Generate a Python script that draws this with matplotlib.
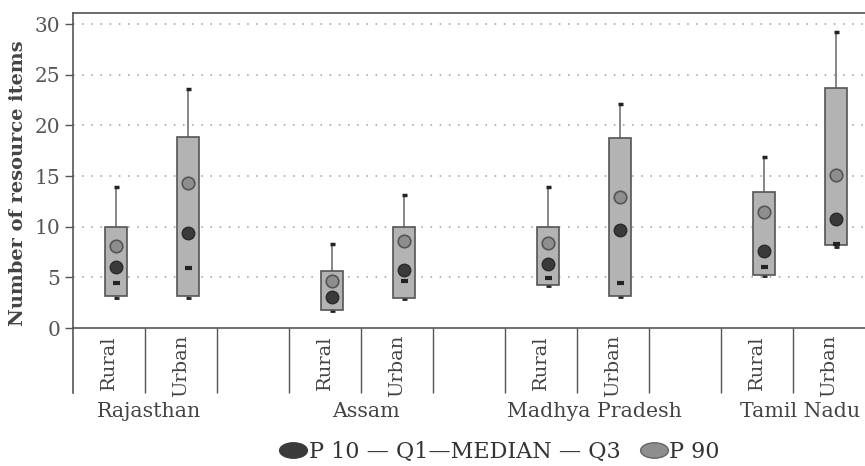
import numpy as np
import matplotlib
matplotlib.use("Agg")
from matplotlib import pyplot as plt
from matplotlib.lines import Line2D
from matplotlib.path import Path
import matplotlib.transforms as mtransforms

# values (number of resource items)
states = ['Rajasthan', 'Assam', 'Madhya Pradesh', 'Tamil Nadu']
areas = ['Rural', 'Urban']
whisk_lo = [3.0, 3.0, 1.7, 2.9, 4.2, 3.1, 5.1, 8.0]
q1 = [3.2, 3.2, 1.8, 3.0, 4.3, 3.2, 5.2, 8.2]
median = [4.4, 5.9, 3.1, 4.6, 4.9, 4.4, 6.0, 8.3]
q3 = [10.0, 18.9, 5.6, 10.0, 10.0, 18.8, 13.4, 23.7]
whisk_hi = [13.9, 23.6, 8.3, 13.1, 13.9, 22.1, 16.9, 29.2]
p10 = [6.0, 9.4, 3.1, 5.7, 6.3, 9.7, 7.6, 10.8]
p90 = [8.1, 14.3, 4.6, 8.6, 8.4, 12.9, 11.5, 15.1]

plt.rcParams['font.family'] = 'DejaVu Serif'

fig = plt.figure(figsize=(8.65, 4.66), dpi=100)
ax = fig.add_axes([0.0844, 0.296, 0.9156, 0.676])

# each state takes 3 slots: rural, urban, gap
pos = []
for g in range(len(states)):
    pos += [g * 3 + 0.5, g * 3 + 1.5]
pos = np.array(pos)
bx = pos + 0.1  # boxes sit a little right of slot centre

box_c = '#b3b3b3'
edge_c = '#555555'
dark = '#3a3a3a'
mid = '#8e8e8e'

ax.vlines(bx, np.array(q3), np.array(whisk_hi), color='#666666', lw=1.1, zorder=2)
ax.vlines(bx, np.array(whisk_lo), np.array(q1), color='#666666', lw=1.1, zorder=2)
ax.bar(bx, np.array(q3) - np.array(q1), bottom=q1, width=0.3,
       color=box_c, edgecolor=edge_c, linewidth=1.2, zorder=3)
ax.hlines(whisk_hi, bx - 0.035, bx + 0.035, color='#222222', lw=2.5, zorder=4)
ax.hlines(whisk_lo, bx - 0.035, bx + 0.035, color='#222222', lw=2.0, zorder=2)
ax.hlines(median, bx - 0.05, bx + 0.05, color='#222222', lw=3, zorder=4)
ax.plot(bx, p10, 'o', ms=9, color=dark, mec='#2a2a2a', zorder=5)
ax.plot(bx, p90, 'o', ms=9, color=mid, mec='#555555', mew=1.2, zorder=5)

ax.set_xlim(0, 11)
ax.set_ylim(0, 31.1)
ax.set_yticks([0, 5, 10, 15, 20, 25, 30])
ax.tick_params(axis='y', direction='out', length=6, width=1, color='#555555',
               labelsize=14.5, labelcolor='#555555', pad=3)
for y in [5, 10, 15, 20, 25, 30]:
    ax.axhline(y, color='#9a9a9a', lw=1.1, ls=(0, (1, 5)), zorder=0)

# x axis: area labels and long separator ticks
ax.set_xticks(pos)
ax.set_xticklabels(areas * len(states), rotation=90, va='top')
ax.tick_params(axis='x', which='major', length=0, labelsize=14,
               labelcolor='#444444', pad=5)
seps = [k for k in range(1, 11)]
ax.set_xticks(seps, minor=True)
ax.tick_params(axis='x', which='minor', direction='out', length=47,
               width=1, color='#555555')

ax.spines['right'].set_visible(False)
for s in ['left', 'bottom', 'top']:
    ax.spines[s].set_color('#555555')
    ax.spines[s].set_linewidth(1.2)

trans = mtransforms.blended_transform_factory(ax.transData, ax.transAxes)
ax.plot([0, 0], [0, -0.206], transform=trans, color='#555555', lw=1.2, clip_on=False)
label_x = [1.06, 4.07, 7.24, 10.1]
for st, lx in zip(states, label_x):
    ax.text(lx, -0.266, st, transform=trans, ha='center', va='center',
            fontsize=14.8, color='#444444')

ax.set_ylabel('Number of resource items', fontsize=14, fontweight='bold',
              color='#444444')
ax.yaxis.set_label_coords(-0.058, 0.46)

ellipse = Path.unit_circle().transformed(mtransforms.Affine2D().scale(1.8, 1.0))
handles = [Line2D([], [], ls='none', marker=ellipse, ms=20, color=dark),
           Line2D([], [], ls='none', marker=ellipse, ms=20, color=mid, mec='#666666')]
fig.legend(handles, ['P 10 \u2014 Q1\u2014MEDIAN \u2014 Q3', 'P 90'],
           loc='center', bbox_to_anchor=(0.578, 0.03), ncol=2, frameon=False,
           fontsize=16, labelcolor='#333333', handletextpad=0.1,
           columnspacing=0.9, handlelength=1.2)

fig.savefig('out.png', dpi=100)
